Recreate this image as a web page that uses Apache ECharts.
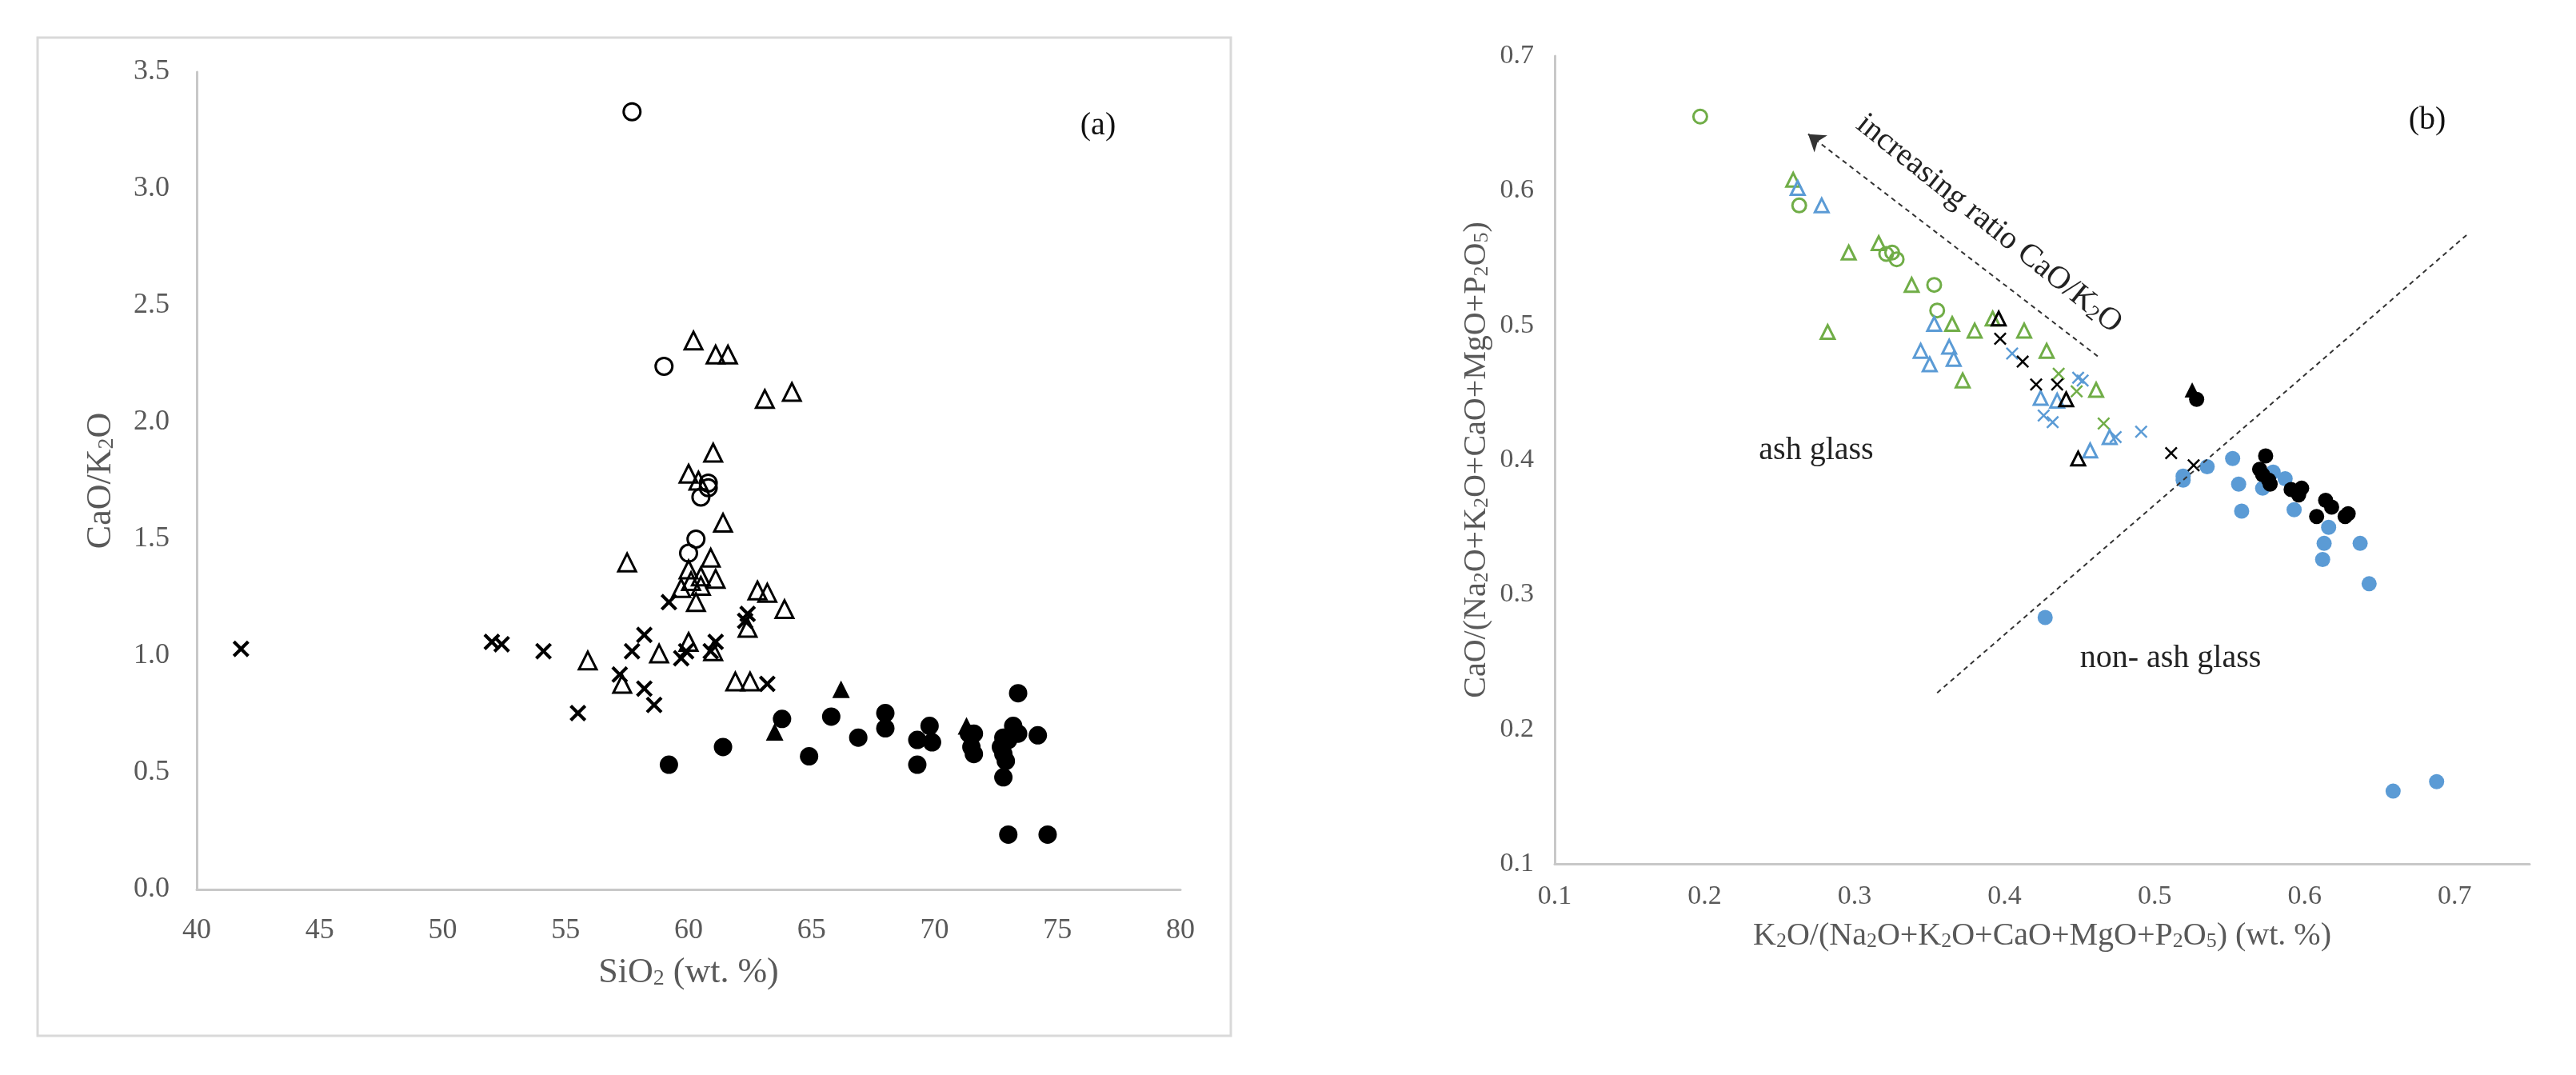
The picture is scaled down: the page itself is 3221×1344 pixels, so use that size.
<!DOCTYPE html>
<html>
<head>
<meta charset="utf-8">
<title>CaO/K2O ash glass plots</title>
<script src="https://cdn.jsdelivr.net/npm/echarts@6/dist/echarts.min.js"></script>
<style>
  html, body { margin: 0; padding: 0; background: #fff; }
  #main { width: 3221px; height: 1344px; }
</style>
</head>
<body>
<div id="main"></div>
<script>
// ---------- panel (a): SiO2 vs CaO/K2O ----------
var aOpenCircle = [[57.7,3.33],[59.0,2.24],[60.8,1.74],[60.8,1.72],[60.5,1.68],[60.3,1.50],[60.0,1.44]];
var aOpenTriangle = [[60.2,2.35],[61.1,2.29],[61.6,2.29],[63.1,2.10],[64.2,2.13],[61.0,1.87],[60.0,1.78],
  [60.4,1.75],[61.4,1.57],[57.5,1.40],[60.9,1.42],[60.0,1.37],[61.1,1.33],[60.5,1.34],[59.7,1.29],
  [60.5,1.30],[60.1,1.32],[60.3,1.23],[62.8,1.28],[63.2,1.27],[63.9,1.20],[62.4,1.12],[55.9,0.98],
  [58.8,1.01],[60.0,1.06],[61.0,1.02],[57.3,0.88],[61.9,0.89],[62.5,0.89]];
var aCross = [[41.8,1.03],[52.0,1.06],[52.4,1.05],[54.1,1.02],[55.5,0.755],[57.2,0.92],[57.7,1.02],
  [58.2,1.09],[58.2,0.86],[58.6,0.79],[59.2,1.23],[59.7,0.99],[59.9,1.02],[61.1,1.06],[60.9,1.02],
  [62.4,1.18],[62.3,1.15],[63.2,0.88]];
var aFilledCircle = [[59.2,0.534],[61.4,0.61],[63.8,0.73],[64.9,0.57],[65.8,0.74],[66.9,0.65],[68.0,0.755],
  [68.0,0.69],[69.3,0.534],[69.3,0.64],[69.8,0.70],[69.9,0.63],[71.4,0.667],[71.6,0.667],[71.6,0.58],
  [71.5,0.61],[72.8,0.65],[72.8,0.58],[72.9,0.55],[72.8,0.48],[73.2,0.70],[73.4,0.84],[73.4,0.667],
  [74.2,0.66],[73.0,0.235],[74.6,0.235],[73.0,0.64],[72.7,0.61]];
var aFilledTriangle = [[66.2,0.857],[63.5,0.675],[71.3,0.70]];

// ---------- panel (b): K2O ratio vs CaO ratio ----------
var bGreenCircle = [[0.197,0.655],[0.263,0.589],[0.321,0.553],[0.325,0.554],[0.328,0.549],[0.353,0.530],[0.355,0.511]];
var bGreenTriangle = [[0.259,0.608],[0.296,0.554],[0.316,0.561],[0.338,0.530],[0.365,0.501],[0.282,0.495],
  [0.380,0.496],[0.392,0.505],[0.413,0.496],[0.428,0.481],[0.372,0.459],[0.461,0.452]];
var bGreenCross = [[0.436,0.464],[0.448,0.451],[0.466,0.427]];
var bBlueTriangle = [[0.262,0.602],[0.278,0.589],[0.353,0.501],[0.344,0.481],[0.363,0.484],[0.350,0.471],
  [0.366,0.475],[0.424,0.446],[0.435,0.444],[0.470,0.417],[0.457,0.407]];
var bBlueCross = [[0.405,0.479],[0.449,0.461],[0.452,0.459],[0.426,0.433],[0.432,0.428],[0.474,0.417],[0.491,0.421]];
var bBlueFilled = [[0.552,0.401],[0.535,0.395],[0.519,0.388],[0.519,0.385],[0.556,0.382],[0.579,0.391],
  [0.587,0.386],[0.572,0.379],[0.558,0.362],[0.593,0.363],[0.616,0.350],[0.613,0.338],[0.612,0.326],
  [0.637,0.338],[0.643,0.308],[0.427,0.283],[0.659,0.154],[0.688,0.161]];
var bBlackTriangle = [[0.396,0.505],[0.441,0.445],[0.449,0.401]];
var bBlackCross = [[0.397,0.490],[0.412,0.473],[0.421,0.456],[0.435,0.456],[0.511,0.405],[0.526,0.396]];
var bBlackFilled = [[0.528,0.445],[0.574,0.403],[0.570,0.393],[0.572,0.389],[0.576,0.385],[0.577,0.382],
  [0.591,0.378],[0.598,0.379],[0.596,0.374],[0.614,0.370],[0.618,0.365],[0.608,0.358],[0.627,0.358],[0.629,0.360]];
var bBlackFilledTriangle = [[0.525,0.452]];

// guide lines (data coords)
var arrowLine = [[0.462,0.477],[0.269,0.642]];
var dividerLine = [[0.355,0.227],[0.709,0.568]];

var xTicksA = { min: 40, max: 80, interval: 5 };
var yTicksA = { min: 0, max: 3.5, interval: 0.5 };
var xTicksB = { min: 0.1, max: 0.75, interval: 0.1 };
var yTicksB = { min: 0.1, max: 0.7, interval: 0.1 };

var FONT = 'Liberation Serif';
var GREY = '#595959';
var GREEN = '#70ad47';
var BLUE = '#5b9bd5';
// thick "x" for panel (a), thin "x" for panel (b)
var CROSS_BOLD = 'path://M0,1.4 L1.4,0 L5,3.6 L8.6,0 L10,1.4 L6.4,5 L10,8.6 L8.6,10 L5,6.4 L1.4,10 L0,8.6 L3.6,5 Z';
var CROSS = 'path://M0,1.1 L1.1,0 L5,3.9 L8.9,0 L10,1.1 L6.1,5 L10,8.9 L8.9,10 L5,6.1 L1.1,10 L0,8.9 L3.9,5 Z';

var dom = document.getElementById('main');
var myChart = echarts.init(dom);

var subRich = {
    n: { fontFamily: FONT, fontSize: 44, color: GREY },
    s: { fontFamily: FONT, fontSize: 28, color: GREY, verticalAlign: 'bottom', padding: [14, 0, 0, 0] }
};
var subRichB = {
    n: { fontFamily: FONT, fontSize: 40, color: GREY },
    s: { fontFamily: FONT, fontSize: 26, color: GREY, verticalAlign: 'bottom', padding: [12, 0, 0, 0] }
};

function axisCommon(t, gi) {
    return {
        type: 'value', gridIndex: gi,
        min: t.min, max: t.max, interval: t.interval,
        splitLine: { show: false },
        axisTick: { show: false },
        axisLine: { show: true, onZero: false, lineStyle: { color: '#c8c8c8', width: 3 } },
        axisLabel: {
            fontFamily: FONT, fontSize: 36, color: GREY, margin: 34,
            formatter: function (v) { return v.toFixed(1); }
        }
    };
}

function scatter(name, data, xi, shape, size, color, filled) {
    return {
        name: name, type: 'scatter', xAxisIndex: xi, yAxisIndex: xi,
        data: data, symbol: shape, symbolSize: size,
        itemStyle: filled
            ? { color: color, borderWidth: 0, opacity: 1 }
            : { color: 'rgba(0,0,0,0)', borderColor: color, borderWidth: 3, opacity: 1 },
        z: 3
    };
}

var xA = axisCommon(xTicksA, 0);
xA.axisLabel.formatter = function (v) { return String(v); };
xA.name = '{n|SiO}{s|2}{n| (wt. %)}';
xA.nameLocation = 'middle'; xA.nameGap = 82;
xA.nameTextStyle = { rich: subRich };

var yA = axisCommon(yTicksA, 0);
yA.name = '{n|CaO/K}{s|2}{n|O}';
yA.nameLocation = 'middle'; yA.nameGap = 98;
yA.nameTextStyle = { rich: subRich };

var xB = axisCommon(xTicksB, 1);
xB.axisLabel.margin = 24;
xB.axisLabel.fontSize = 34;
xB.axisLabel.showMaxLabel = false;
xB.name = '{n|K}{s|2}{n|O/(Na}{s|2}{n|O+K}{s|2}{n|O+CaO+MgO+P}{s|2}{n|O}{s|5}{n|) (wt. %)}';
xB.nameLocation = 'middle'; xB.nameGap = 70;
xB.nameTextStyle = { rich: subRichB };

var yB = axisCommon(yTicksB, 1);
yB.axisLabel.margin = 26;
yB.axisLabel.fontSize = 34;
yB.axisLabel.showMaxLabel = true;
yB.name = '{n|CaO/(Na}{s|2}{n|O+K}{s|2}{n|O+CaO+MgO+P}{s|2}{n|O}{s|5}{n|)}';
yB.nameLocation = 'middle'; yB.nameGap = 78;
yB.nameTextStyle = { rich: subRichB };

var option = {
    backgroundColor: '#ffffff',
    animation: false,
    grid: [
        { left: 246, top: 90, width: 1230, height: 1022 },
        { left: 1944, top: 70, width: 1219, height: 1010 }
    ],
    xAxis: [xA, xB],
    yAxis: [yA, yB],
    graphic: [
        { type: 'rect', shape: { x: 47, y: 47, width: 1492, height: 1248 },
          style: { fill: 'none', stroke: '#d9d9d9', lineWidth: 3 }, z: 0 },
        { type: 'text', x: 1373, y: 157, style: { text: '(a)', font: '40px "Liberation Serif"', fill: '#111',
          align: 'center', verticalAlign: 'middle' } },
        { type: 'text', x: 3035, y: 150, style: { text: '(b)', font: '40px "Liberation Serif"', fill: '#111',
          align: 'center', verticalAlign: 'middle' } },
        { type: 'text', x: 2271, y: 563, style: { text: 'ash glass', font: '40px "Liberation Serif"', fill: '#222',
          align: 'center', verticalAlign: 'middle' } },
        { type: 'text', x: 2714, y: 823, style: { text: 'non- ash glass', font: '40px "Liberation Serif"', fill: '#222',
          align: 'center', verticalAlign: 'middle' } },
        { type: 'text', x: 2487, y: 280, rotation: -38.7 * Math.PI / 180,
          style: { text: '{n|increasing ratio CaO/K}{s|2}{n|O}', align: 'center', verticalAlign: 'middle',
            rich: { n: { fontFamily: FONT, fontSize: 40, fill: '#222' },
                    s: { fontFamily: FONT, fontSize: 26, fill: '#222', verticalAlign: 'bottom', padding: [12, 0, 0, 0] } } } }
    ],
    series: [
        scatter('a open circle', aOpenCircle, 0, 'circle', 21, '#000', false),
        scatter('a open triangle', aOpenTriangle, 0, 'triangle', 22, '#000', false),
        scatter('a cross', aCross, 0, CROSS_BOLD, 21, '#000', true),
        scatter('a filled circle', aFilledCircle, 0, 'circle', 23, '#000', true),
        scatter('a filled triangle', aFilledTriangle, 0, 'triangle', 22, '#000', true),

        scatter('b green circle', bGreenCircle, 1, 'circle', 17, GREEN, false),
        scatter('b green triangle', bGreenTriangle, 1, 'triangle', 17, GREEN, false),
        scatter('b green cross', bGreenCross, 1, CROSS, 16, GREEN, true),
        scatter('b blue triangle', bBlueTriangle, 1, 'triangle', 17, BLUE, false),
        scatter('b blue cross', bBlueCross, 1, CROSS, 16, BLUE, true),
        scatter('b blue filled', bBlueFilled, 1, 'circle', 19, BLUE, true),
        scatter('b black triangle', bBlackTriangle, 1, 'triangle', 17, '#000', false),
        scatter('b black cross', bBlackCross, 1, CROSS, 16, '#000', true),
        scatter('b black filled', bBlackFilled, 1, 'circle', 19, '#000', true),
        scatter('b black filled triangle', bBlackFilledTriangle, 1, 'triangle', 19, '#000', true),
        {
            name: 'guides', type: 'scatter', xAxisIndex: 1, yAxisIndex: 1, data: [], silent: true,
            markLine: {
                silent: true, animation: false,
                label: { show: false },
                lineStyle: { color: '#333', width: 2, type: [6, 5] },
                data: [
                    [{ coord: arrowLine[0], symbol: 'none' }, { coord: arrowLine[1], symbol: 'arrow', symbolSize: 20 }],
                    [{ coord: dividerLine[0], symbol: 'none' }, { coord: dividerLine[1], symbol: 'none' }]
                ]
            }
        }
    ]
};

if (option && typeof option === "object") {
    myChart.setOption(option, true);
}
</script>
</body>
</html>
